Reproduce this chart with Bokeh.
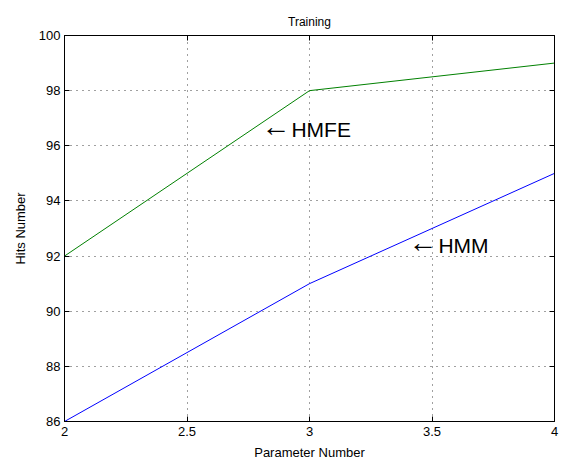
from bokeh.plotting import figure
from bokeh.models import Range1d, LinearAxis, FixedTicker, ColumnDataSource
from bokeh.core.properties import value
from bokeh.embed import file_html
from bokeh.resources import INLINE

# Parameter number vs. hits for the two models
params = [2, 3, 4]
hmfe_hits = [92, 98, 99]
hmm_hits = [86, 91, 95]

x_ticks = [2, 2.5, 3, 3.5, 4]
y_ticks = [86, 88, 90, 92, 94, 96, 98, 100]

# Inline labels pointing at each curve
label_x = [2.82, 3.42]
label_y = [96.6, 92.4]
label_name = ["HMFE", "HMM"]
label_arrow = ["\u2190", "\u2190"]

FONT = "Liberation Sans"

p = figure(width=564, height=465, output_backend="svg", toolbar_location=None,
           x_range=Range1d(2, 4), y_range=Range1d(86, 100),
           min_border_left=64, min_border_right=10,
           min_border_top=35, min_border_bottom=44)

p.title.text = "Training"
p.title.align = "center"
p.title.text_font = FONT
p.title.text_font_size = "12px"
p.title.text_font_style = "normal"
p.title.text_color = "black"
p.title.standoff = 13

p.outline_line_color = "black"
p.outline_line_width = 1
p.outline_line_alpha = 1
p.background_fill_color = "white"
p.border_fill_color = "white"

for ax in (p.xaxis[0], p.yaxis[0]):
    ax.major_tick_in = 5
    ax.major_tick_out = 0
    ax.minor_tick_line_color = None
    ax.axis_line_color = "black"
    ax.major_tick_line_color = "black"
    ax.major_label_text_font = FONT
    ax.major_label_text_font_size = "13px"
    ax.major_label_text_color = "black"
    ax.axis_label_text_font = FONT
    ax.axis_label_text_font_size = "13px"
    ax.axis_label_text_font_style = "normal"
    ax.axis_label_text_color = "black"

p.xaxis[0].ticker = FixedTicker(ticks=x_ticks)
p.yaxis[0].ticker = FixedTicker(ticks=y_ticks)
p.xaxis[0].major_label_standoff = 5
p.yaxis[0].major_label_standoff = 4
p.xaxis[0].axis_label = "Parameter Number"
p.yaxis[0].axis_label = "Hits Number"
p.xaxis[0].axis_label_standoff = 6
p.yaxis[0].axis_label_standoff = 8

# Box axes on top and right with inward ticks and blank labels
top = LinearAxis(ticker=FixedTicker(ticks=x_ticks), major_tick_in=5, major_tick_out=0,
                 minor_tick_line_color=None, axis_line_color="black",
                 major_label_overrides={t: "" for t in x_ticks},
                 major_label_standoff=0)
right = LinearAxis(ticker=FixedTicker(ticks=y_ticks), major_tick_in=5, major_tick_out=0,
                   minor_tick_line_color=None, axis_line_color="black",
                   major_label_overrides={t: "" for t in y_ticks},
                   major_label_standoff=0)
p.add_layout(top, "above")
p.add_layout(right, "right")

p.xgrid.ticker = FixedTicker(ticks=x_ticks)
p.ygrid.ticker = FixedTicker(ticks=y_ticks)
for g in (p.xgrid[0], p.ygrid[0]):
    g.grid_line_color = "black"
    g.grid_line_alpha = 0.75
    g.grid_line_dash = "1 5"
    g.grid_line_width = 1

p.line(params, hmm_hits, line_color="#0000ff", line_width=1)
p.line(params, hmfe_hits, line_color="#008000", line_width=1)

src = ColumnDataSource(dict(x=label_x, y=label_y, a=label_arrow, n=label_name))
p.text(x="x", y="y", text="a", source=src, text_font=value(FONT),
       text_font_size="29px", text_align="left", text_baseline="middle",
       text_color="black", x_offset=-4, y_offset=-3)
p.text(x="x", y="y", text="n", source=src, text_font=value(FONT), x_offset=26,
       text_font_size="21px", text_align="left", text_baseline="middle",
       text_color="black")

open("out.html", "w").write(file_html(p, INLINE))
